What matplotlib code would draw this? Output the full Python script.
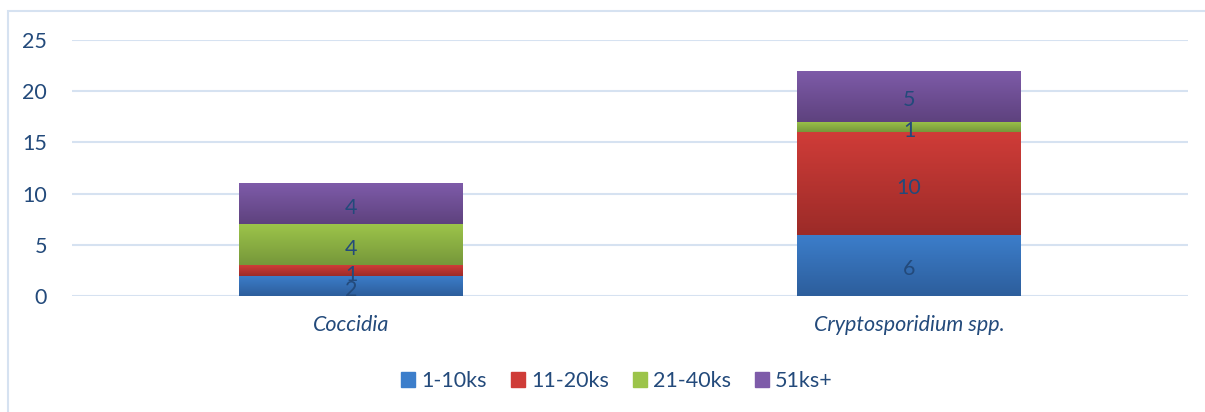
import numpy as np
import matplotlib.pyplot as plt
from matplotlib.patches import Rectangle
from matplotlib.colors import LinearSegmentedColormap

categories = ["Coccidia", "Cryptosporidium spp."]
series_names = ["1-10ks", "11-20ks", "21-40ks", "51ks+"]
v_1_10 = [2, 6]
v_11_20 = [1, 10]
v_21_40 = [4, 1]
v_51 = [4, 5]
series = [v_1_10, v_11_20, v_21_40, v_51]

# (top colour, bottom colour) for the gradient look
grads = [("#3C7ECB", "#2D5E9C"),
         ("#CF3C38", "#9C2B28"),
         ("#9CC44A", "#76973A"),
         ("#7E5BA9", "#5E427E")]
text_col = "#234A7B"
grid_col = "#D6E2F1"
fs = 15.5

plt.rcParams["font.family"] = ["Lato", "DejaVu Sans"]

fig = plt.figure(figsize=(12.05, 4.12), dpi=100)
W, H = 1205, 412
ax = fig.add_axes([72 / W, 1 - 296 / H, (1188 - 72) / W, (296 - 40) / H])

# chart border (only top/left visible)
fig.patches.append(Rectangle((8 / W, -0.1), 1.2, (H - 11) / H + 0.1, transform=fig.transFigure,
                             fill=False, edgecolor=grid_col, lw=1.5))

x = np.arange(len(categories))
width = 0.4
bottom = np.zeros(len(categories))
for vals, (ctop, cbot), name in zip(series, grads, series_names):
    vals = np.array(vals, dtype=float)
    bars = ax.bar(x, vals, width, bottom=bottom, color=ctop, label=name, zorder=3)
    cmap = LinearSegmentedColormap.from_list("g", [cbot, ctop])
    for b in bars:
        bx, by = b.get_x(), b.get_y()
        bw, bh = b.get_width(), b.get_height()
        grad = np.linspace(0, 1, 100).reshape(-1, 1)
        im = ax.imshow(grad, cmap=cmap, origin="lower", aspect="auto",
                       extent=[bx, bx + bw, by, by + bh], zorder=3.5)
        im.set_clip_path(b)
    for xi, v, bt in zip(x, vals, bottom):
        ax.annotate(f"{int(v)}", (xi, bt + v / 2), xytext=(0, -3), textcoords="offset points",
                    ha="center", va="center", color=text_col, fontsize=fs, zorder=5)
    bottom += vals

# subtle shadow under bars
for xi, tot in zip(x, bottom):
    ax.add_patch(Rectangle((xi - width / 2 + 0.005, -0.35), width, 0.35, color="#BBBBBB",
                           alpha=0.6, zorder=2.5, lw=0))

ax.set_xlim(-0.5, 1.5)
ax.set_ylim(0, 25)
ax.set_yticks([0, 5, 10, 15, 20, 25])
ax.set_xticks(x)
ax.set_xticklabels(categories, style="italic")
ax.tick_params(axis="both", length=0, colors=text_col, labelsize=fs)
ax.tick_params(axis="x", pad=14)
ax.tick_params(axis="y", pad=18)
ax.grid(axis="y", color=grid_col, lw=1.5, zorder=0)
for s in ax.spines.values():
    s.set_visible(False)

handles = [Rectangle((0, 0), 1, 1, color=ctop) for ctop, _ in grads]
leg = fig.legend(handles, series_names, loc="center", bbox_to_anchor=(617 / W, 1 - 381 / H),
                 ncol=4, frameon=False, handlelength=0.65, handleheight=0.65,
                 handletextpad=0.3, columnspacing=1.1, fontsize=fs)
for t in leg.get_texts():
    t.set_color(text_col)

fig.savefig("out.png", dpi=100)
